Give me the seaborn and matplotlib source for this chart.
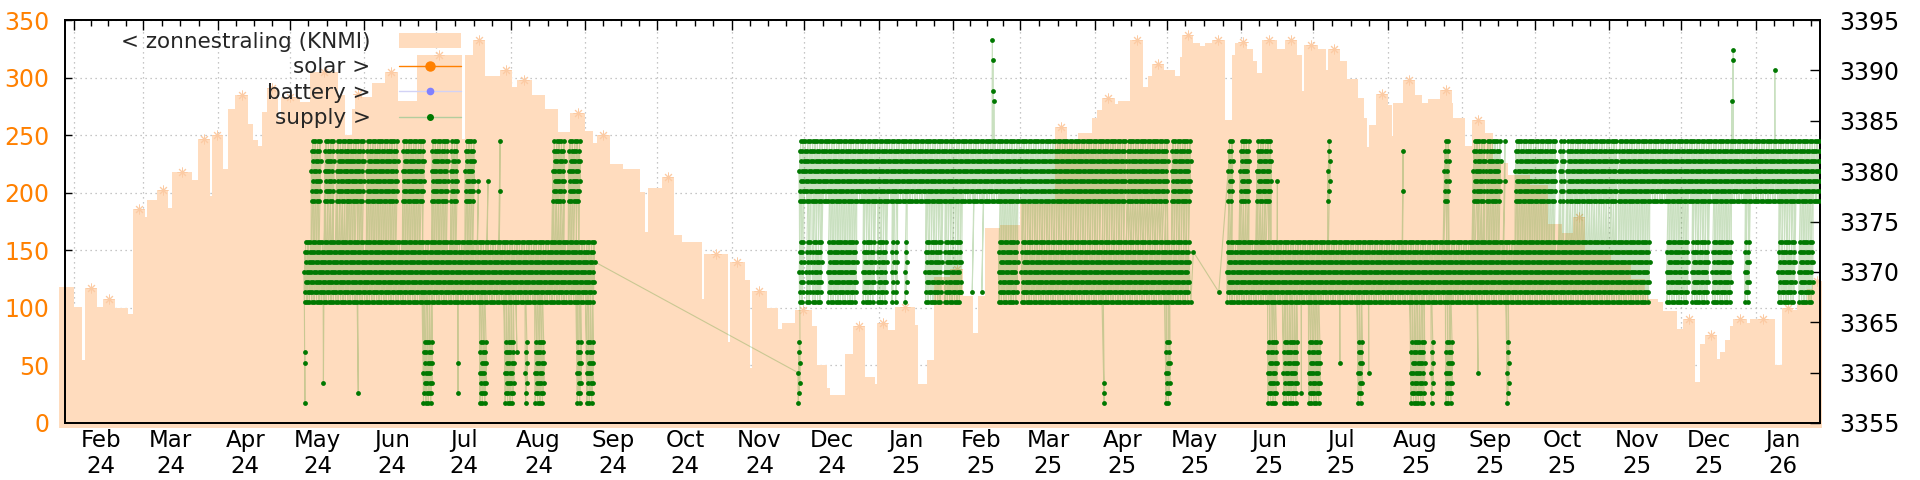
import numpy as np
import pandas as pd
import seaborn as sns
import matplotlib
matplotlib.use("Agg")
import matplotlib.pyplot as plt
import matplotlib.dates as mdates
from matplotlib.lines import Line2D
from matplotlib.patches import Patch
from matplotlib.ticker import FixedLocator

START = pd.Timestamp("2024-02-01")  # day 0 for every day number below

# zonnestraling (KNMI) in W/m2, value holds from each day until the next one
sun_day = [-6, 0, 3.4, 4.8, 9.6, 12.4, 17.3, 22.8, 24.6, 29.8,
           30.7, 34.6, 39.5, 40.9, 49.2, 51.9, 56.8, 57.5, 62.3, 64.4,
           67.2, 72.7, 74.8, 76.9, 78.6, 80.4, 85.2, 86.2, 94.3, 98.4,
           110.2, 113, 115.8, 117.1, 119.9, 124.1, 129.6, 134.9, 142.8, 161.5,
           162.9, 166.4, 171.2, 177.5, 182.3, 184.4, 190.7, 196.2, 201.8, 206.6,
           212.9, 216.3, 217.7, 223.3, 228.8, 235.7, 237.8, 239.2, 244.8, 249.9,
           253.1, 261.4, 262.4, 272.5, 273.2, 279.4, 281.5, 282.2, 288.5, 293.3,
           294.7, 300.2, 307.2, 309.3, 313.4, 314.8, 321.1, 324.5, 329.4, 333.5,
           334.3, 339.1, 341.9, 350.2, 351.6, 355.1, 358, 364.7, 370.3, 374.4,
           376.5, 379.3, 385.5, 393.9, 408.4, 413.3, 418.1, 423.7, 425.8, 427.9,
           433.4, 434.8, 439.7, 445.2, 447.3, 448.7, 453.6, 458.4, 460.5, 461.4,
           466, 468.8, 470.9, 473.7, 479.2, 482, 483.4, 485.4, 488.2, 491,
           492.4, 494.5, 500.7, 504.2, 509, 511.1, 512.1, 518, 521.2, 522.2,
           527.1, 530.1, 534.7, 537, 538.2, 539.2, 542, 547.1, 548.6, 549.2,
           553.4, 558.3, 561.1, 563.8, 568.7, 573.5, 574.2, 579.1, 581.9, 587.4,
           590.8, 595, 597.1, 606.1, 613.7, 619.3, 624.1, 629, 640, 648,
           654, 655.4, 659.5, 661.6, 667.2, 669.9, 674.8, 676.9, 678.9, 683.8,
           685.2, 687.3, 689.3, 690.7, 696.3, 697.7, 708.1, 710.9, 715.7, 717.2,
           721.3, 723.4, 727.5]
sun_wm2 = [118, 101, 55, 117, 101, 108, 100, 95, 186, 179,
           194, 202, 187, 218, 211, 247, 197, 250, 221, 273,
           285, 260, 246, 241, 270, 291, 263, 283, 279, 305,
           285, 250, 273, 286, 283, 295, 305, 280, 320, 247,
           320, 333, 301, 307, 292, 298, 285, 273, 253, 269,
           254, 243, 250, 225, 221, 201, 166, 204, 214, 163,
           157, 108, 147, 70, 140, 124, 48, 115, 100, 82,
           87, 98, 84, 50, 30, 24, 60, 84, 40, 34,
           87, 81, 101, 85, 34, 55, 127, 134, 110, 78,
           110, 169, 172, 190, 257, 246, 252, 265, 272, 282,
           277, 280, 333, 292, 301, 312, 307, 301, 318, 337,
           330, 327, 330, 333, 263, 320, 330, 331, 325, 314,
           304, 333, 325, 333, 320, 288, 328, 325, 307, 325,
           314, 299, 282, 265, 240, 259, 286, 276, 249, 278,
           298, 285, 278, 281, 289, 278, 265, 241, 263, 252,
           228, 226, 215, 207, 173, 165, 179, 150, 140, 125,
           111, 108, 105, 97, 82, 90, 36, 69, 76, 56,
           62, 72, 84, 90, 87, 90, 50, 100, 98, 105,
           116, 123, 123]

# the supply readings sit in three bands of seven levels
upper_levels = [3377, 3378, 3379, 3380, 3381, 3382, 3383]
middle_levels = [3367, 3368, 3369, 3370, 3371, 3372, 3373]
lower_levels = [3357, 3358, 3359, 3360, 3361, 3362, 3363]

# periods (first day, last day) with readings in each band
upper_spans = [(99, 102.5), (104.5, 108), (109.5, 113.5), (114, 120.5), (122, 134.5),
               (137, 143), (144, 145.5), (149, 155.5), (157, 159), (163, 166.5),
               (199.5, 204), (206, 210),
               (302, 415.5), (416, 437.5), (438.5, 447.5), (448.5, 455), (457, 464),
               (480.5, 481.5), (485.5, 489), (492.5, 498), (522, 522), (570.5, 571.5),
               (582.5, 586.5), (588, 593.5), (600, 614), (615, 616), (618.5, 620),
               (621.5, 641.5), (643, 727.3)]
middle_spans = [(96, 190), (191, 216),
                (302, 303.5), (305, 306.5), (307.5, 310.5), (314, 319), (320, 325.5),
                (328.5, 332.5), (334.5, 337.5), (340.5, 340.5), (342, 342), (346, 346),
                (354.5, 361), (362.5, 368.5),
                (385, 392.5), (394.5, 406.5), (407.5, 463.5), (480, 655.5),
                (663, 671), (673.5, 680), (682, 689.5), (695.5, 696.5), (709.5, 716),
                (718, 723.5)]
lower_spans = [(145.5, 148.5), (169, 171.5), (179.5, 182.5), (188, 188), (192, 195.5),
               (209.5, 211), (213.5, 215.5), (301.5, 301.5), (454.5, 456), (497, 500),
               (503.5, 508.5), (514, 518.5), (534.5, 535.5), (556.5, 562), (565, 565),
               (571, 573), (596.5, 596.5)]

# loose readings outside the periods above
single_day = [96.3, 96.3, 96.3, 104, 118.5, 160, 160, 168.5, 168.5, 172.5,
              177.5, 177.5, 184.5, 369.5, 374, 378, 382.4, 382.6, 382.8, 383,
              428.9, 428.9, 428.9, 465, 466, 476.6, 501, 511, 527, 539,
              553.3, 553.3, 584.5, 595.7, 595.7, 690, 690.5, 690.7, 708]
single_volt = [3362, 3361, 3357, 3359, 3358, 3361, 3358, 3378, 3379, 3379,
               3383, 3378, 3362, 3368, 3368, 3368, 3393, 3391, 3388, 3387,
               3357, 3358, 3359, 3367, 3372, 3368, 3379, 3358, 3361, 3360,
               3382, 3378, 3360, 3383, 3379, 3387, 3391, 3392, 3390]

# no solar or battery readings in this window
solar_day, solar_val = [], []
battery_day, battery_val = [], []

PEACH = "#ffdcbe"
STAR = "#fccba4"
ORANGE = "#ff8000"
DOT_GREEN = "#007800"
LINE_GREEN = "#4f9a2f"
GRID = "#b4b4b4"

LEVEL_ORDER = [3, 0, 5, 1, 6, 2, 4]


def band_readings(spans, levels):
    """One reading per level per day, in the order they alternate within a day."""
    t, v = [], []
    for a, b in spans:
        for d in np.arange(a, b + 0.01, 1.0):
            for k, i in enumerate(LEVEL_ORDER):
                t.append(d + k / 7)
                v.append(levels[i])
    return t, v


parts = [band_readings(middle_spans, middle_levels),
         band_readings(upper_spans, upper_levels),
         band_readings(lower_spans, lower_levels),
         (single_day, single_volt)]
supply = pd.DataFrame({
    "day": np.concatenate([p[0] for p in parts]),
    "volt": np.concatenate([p[1] for p in parts]),
})
# readings of one band come in one stretch per day: low, high, then middle
supply["block"] = np.floor(supply["day"])
supply["band"] = np.select([supply["volt"] > 3375, supply["volt"] > 3365], [1, 2], 0)
supply = supply.sort_values(["block", "band", "day"], kind="stable").reset_index(drop=True)
supply["date"] = START + pd.to_timedelta(supply["day"], unit="D")

sun = pd.DataFrame({"day": sun_day, "wm2": sun_wm2})
sun["date"] = START + pd.to_timedelta(sun["day"], unit="D")
sun["mid"] = START + pd.to_timedelta((sun["day"] + sun["day"].shift(-1)) / 2, unit="D")
peaks = sun[(sun["wm2"] >= sun["wm2"].shift(1)) & (sun["wm2"] >= sun["wm2"].shift(-1))]

sns.set_theme(style="white")
plt.rcParams["font.family"] = ["DejaVu Sans"]

fig = plt.figure(figsize=(19.2, 4.8), dpi=100)
ax = fig.add_axes([65 / 1920, 57 / 480, 1755 / 1920, 403 / 480])
ax2 = ax.twinx()

# irradiance on the left axis
ax.fill_between(sun["date"], sun["wm2"], -4, step="post", color=PEACH, lw=0,
                clip_on=False, zorder=1)
ax.plot(peaks["mid"], peaks["wm2"], ls="none", marker=(8, 2, 0), ms=7,
        mec=STAR, mew=0.7, zorder=1.2)

# supply readings on the right axis
sns.lineplot(data=supply, x="date", y="volt", ax=ax2, estimator=None, sort=False,
             color=LINE_GREEN, alpha=0.3, lw=0.8, zorder=2)
sns.scatterplot(data=supply, x="date", y="volt", ax=ax2, color=DOT_GREEN, s=12,
                linewidth=0, zorder=3)
solar_line, = ax2.plot(solar_day, solar_val, color=ORANGE, lw=1, marker="o", ms=6.5)
battery_line, = ax2.plot(battery_day, battery_val, color="#d2d2f5", lw=1, marker="o",
                         ms=4.5, mfc="#8080ff", mec="#8080ff")

ax.set_xlim(START - pd.Timedelta(days=3.54), START + pd.Timedelta(days=726.8))
ax.set_ylim(0, 350)
ax2.set_ylim(3355, 3395)

# month ticks, quarter-month minor ticks, labels near mid month
months = pd.date_range("2024-01-01", "2026-02-01", freq="MS")
minor = []
for m0, m1 in zip(months[:-1], months[1:]):
    step = (m1 - m0) / 4
    minor += [m0 + step * k for k in (1, 2, 3)]
ax.xaxis.set_major_locator(mdates.MonthLocator())
ax.xaxis.set_minor_locator(FixedLocator(mdates.date2num(minor)))
ax.tick_params(axis="x", which="both", direction="in", top=True, bottom=True,
               labelbottom=False, width=1, color="black")
ax.tick_params(axis="x", which="major", length=7)
ax.tick_params(axis="x", which="minor", length=4)

lab = ax.secondary_xaxis("bottom")
lab.set_xticks(mdates.date2num(months[1:-1] + pd.Timedelta(days=11.5)))
lab.xaxis.set_major_formatter(mdates.DateFormatter("%b\n%y"))
lab.tick_params(length=0, pad=4, labelsize=16.5, labelcolor="black")
for t in lab.get_xticklabels():
    t.set_linespacing(1.2)
lab.spines["bottom"].set_visible(False)

ax.set_yticks(range(0, 351, 50))
ax.tick_params(axis="y", direction="in", length=5, width=1, labelsize=17,
               labelcolor=ORANGE, pad=11, right=False, color="black")
ax2.set_yticks(range(3355, 3396, 5))
ax2.tick_params(axis="y", direction="in", length=7, width=1, labelsize=17,
                labelcolor="black", pad=14, left=False, color="black")

ax.grid(True, which="major", color=GRID, linestyle=(0, (1, 3)), linewidth=0.9)
ax2.grid(False)
for a in (ax, ax2):
    a.set_xlabel("")
    a.set_ylabel("")
    for sp in a.spines.values():
        sp.set_color("black")
        sp.set_linewidth(1.3)

handles = [Patch(facecolor=PEACH, edgecolor="none"), solar_line, battery_line,
           Line2D([], [], color="#b3cd9e", lw=1, marker="o", ms=4,
                  mfc=DOT_GREEN, mec=DOT_GREEN)]
labels = ["< zonnestraling (KNMI)", "solar >", "battery >", "supply >"]
ax2.legend(handles, labels, loc="upper right", bbox_to_anchor=(461 / 1920, 448 / 480),
           bbox_transform=fig.transFigure, markerfirst=False, frameon=False,
           fontsize=15.5, handlelength=2.9, handletextpad=1.3, labelspacing=0.25,
           borderpad=0, borderaxespad=0)

fig.savefig("out.png", dpi=100)
